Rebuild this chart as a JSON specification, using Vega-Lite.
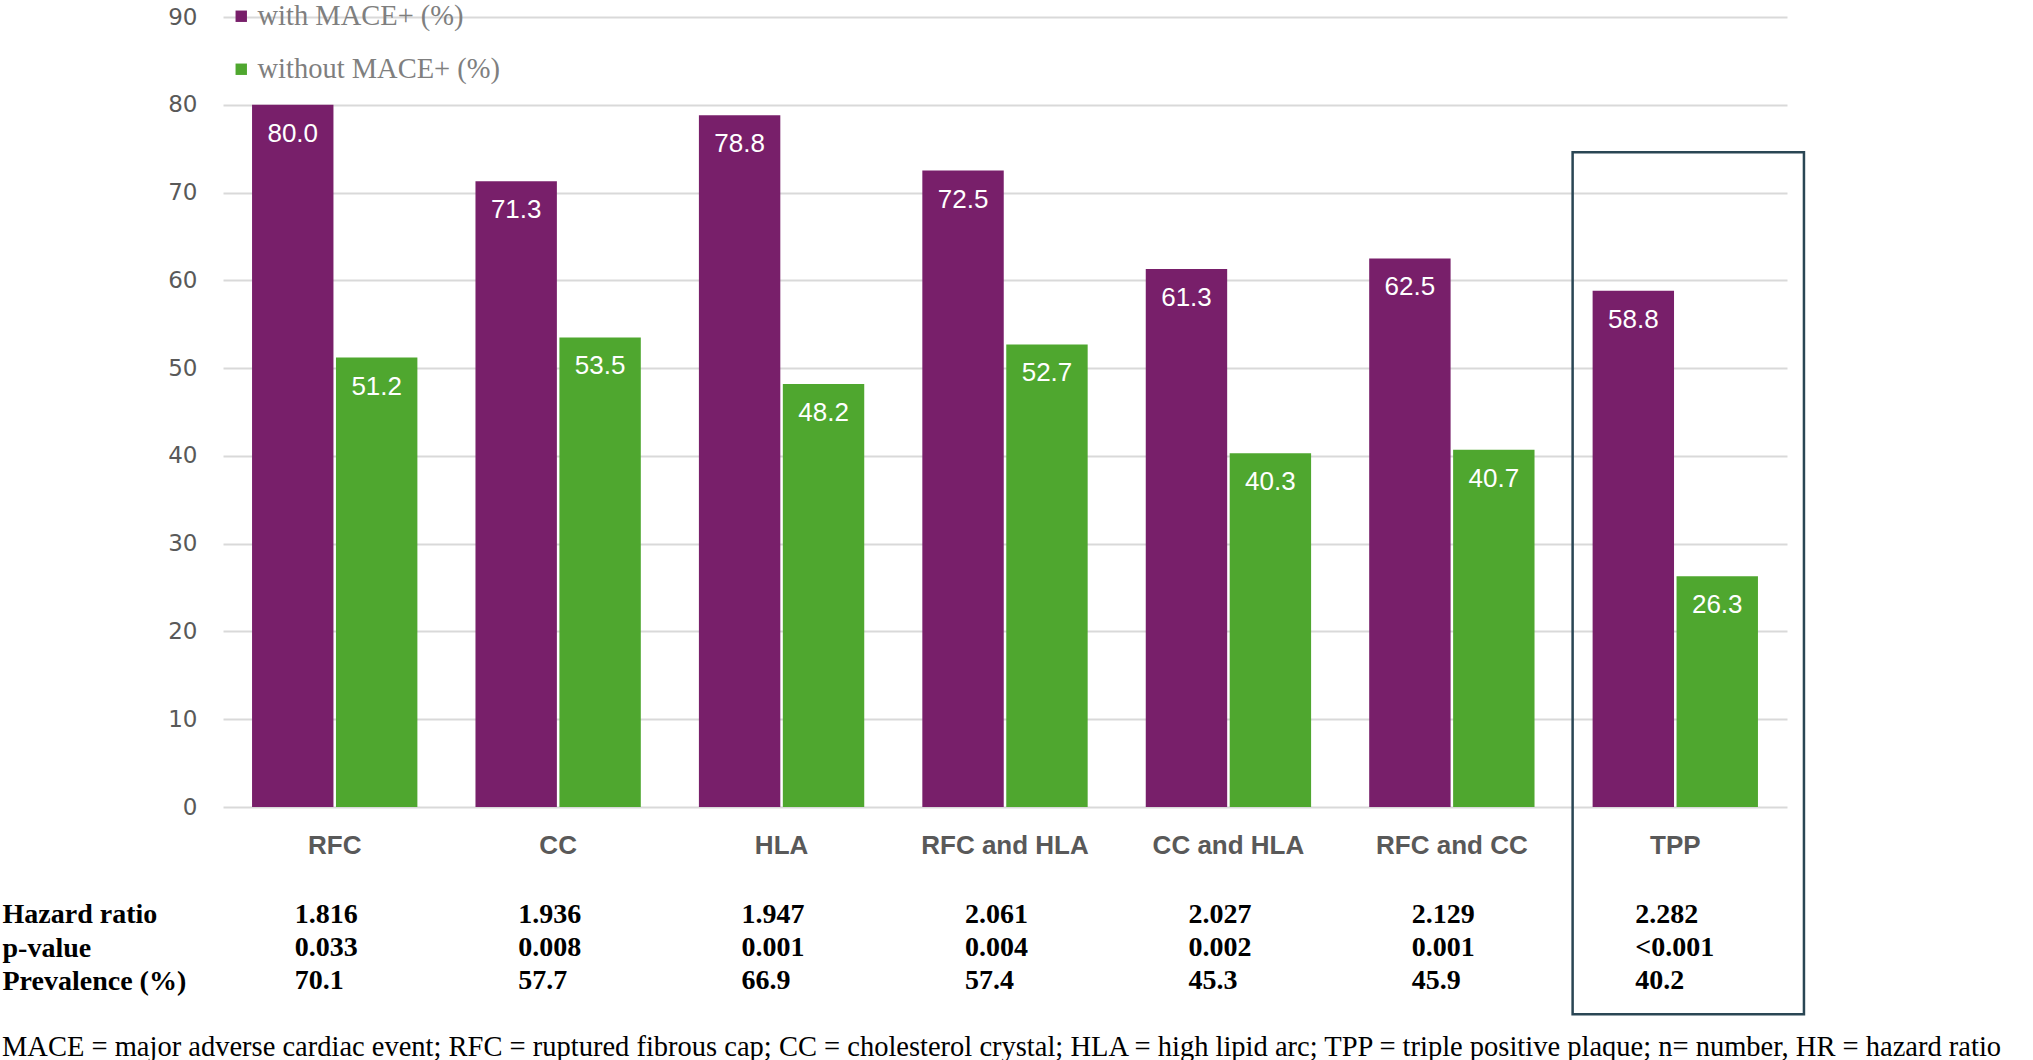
{
  "$schema": "https://vega.github.io/schema/vega-lite/v6.json",
  "padding": 2,
  "background": "white",
  "bounds": "flush",
  "spacing": 91,
  "config": {"view": {"stroke": null}},
  "datasets": {
    "bars": [
      {"cat": "RFC", "series": "with MACE+ (%)", "value": 80.0},
      {"cat": "RFC", "series": "without MACE+ (%)", "value": 51.2},
      {"cat": "CC", "series": "with MACE+ (%)", "value": 71.3},
      {"cat": "CC", "series": "without MACE+ (%)", "value": 53.5},
      {"cat": "HLA", "series": "with MACE+ (%)", "value": 78.8},
      {"cat": "HLA", "series": "without MACE+ (%)", "value": 48.2},
      {"cat": "RFC and HLA", "series": "with MACE+ (%)", "value": 72.5},
      {"cat": "RFC and HLA", "series": "without MACE+ (%)", "value": 52.7},
      {"cat": "CC  and HLA", "series": "with MACE+ (%)", "value": 61.3},
      {"cat": "CC  and HLA", "series": "without MACE+ (%)", "value": 40.3},
      {"cat": "RFC and CC", "series": "with MACE+ (%)", "value": 62.5},
      {"cat": "RFC and CC", "series": "without MACE+ (%)", "value": 40.7},
      {"cat": "TPP", "series": "with MACE+ (%)", "value": 58.8},
      {"cat": "TPP", "series": "without MACE+ (%)", "value": 26.3}
    ],
    "table": [
      {"cat": "RFC", "row": "Hazard ratio", "val": "1.816"},
      {"cat": "RFC", "row": "p-value", "val": "0.033"},
      {"cat": "RFC", "row": "Prevalence (%)", "val": "70.1"},
      {"cat": "CC", "row": "Hazard ratio", "val": "1.936"},
      {"cat": "CC", "row": "p-value", "val": "0.008"},
      {"cat": "CC", "row": "Prevalence (%)", "val": "57.7"},
      {"cat": "HLA", "row": "Hazard ratio", "val": "1.947"},
      {"cat": "HLA", "row": "p-value", "val": "0.001"},
      {"cat": "HLA", "row": "Prevalence (%)", "val": "66.9"},
      {"cat": "RFC and HLA", "row": "Hazard ratio", "val": "2.061"},
      {"cat": "RFC and HLA", "row": "p-value", "val": "0.004"},
      {"cat": "RFC and HLA", "row": "Prevalence (%)", "val": "57.4"},
      {"cat": "CC  and HLA", "row": "Hazard ratio", "val": "2.027"},
      {"cat": "CC  and HLA", "row": "p-value", "val": "0.002"},
      {"cat": "CC  and HLA", "row": "Prevalence (%)", "val": "45.3"},
      {"cat": "RFC and CC", "row": "Hazard ratio", "val": "2.129"},
      {"cat": "RFC and CC", "row": "p-value", "val": "0.001"},
      {"cat": "RFC and CC", "row": "Prevalence (%)", "val": "45.9"},
      {"cat": "TPP", "row": "Hazard ratio", "val": "2.282"},
      {"cat": "TPP", "row": "p-value", "val": "<0.001"},
      {"cat": "TPP", "row": "Prevalence (%)", "val": "40.2"}
    ],
    "box": [{"cat": "TPP", "top": 74.6, "bottom": -23.6}]
  },
  "title": {
    "text": "MACE = major adverse cardiac event; RFC = ruptured fibrous cap; CC = cholesterol crystal; HLA = high lipid arc; TPP = triple positive plaque; n= number, HR = hazard ratio",
    "orient": "bottom",
    "anchor": "start",
    "frame": "bounds",
    "offset": 18,
    "font": "Liberation Serif",
    "fontSize": 28.5,
    "fontWeight": "normal",
    "color": "black",
    "limit": 2100
  },
  "vconcat": [
    {
      "width": 1564,
      "height": 790,
      "layer": [
        {
          "data": {"name": "bars"},
          "mark": {"type": "bar"},
          "encoding": {
            "x": {
              "field": "cat",
              "type": "nominal",
              "sort": ["RFC", "CC", "HLA", "RFC and HLA", "CC  and HLA", "RFC and CC", "TPP"],
              "scale": {"paddingInner": 0.26, "paddingOuter": 0.13},
              "axis": {
                "title": null,
                "labelAngle": 0,
                "domain": false,
                "ticks": false,
                "labelPadding": 25,
                "labelFont": "Liberation Sans",
                "labelFontWeight": "bold",
                "labelFontSize": 26,
                "labelColor": "#595959"
              }
            },
            "xOffset": {
              "field": "series",
              "sort": ["with MACE+ (%)", "without MACE+ (%)"],
              "scale": {"paddingInner": 0.03}
            },
            "y": {
              "field": "value",
              "type": "quantitative",
              "scale": {"domain": [0, 90]},
              "axis": {
                "title": null,
                "values": [0, 10, 20, 30, 40, 50, 60, 70, 80, 90],
                "domain": false,
                "ticks": false,
                "labelPadding": 26,
                "labelFont": "DejaVu Sans",
                "labelFontSize": 23,
                "labelColor": "#595959",
                "gridColor": "#d9d9d9",
                "gridWidth": 2
              }
            },
            "color": {
              "field": "series",
              "type": "nominal",
              "scale": {"domain": ["with MACE+ (%)", "without MACE+ (%)"], "range": ["#781f6a", "#4fa72f"]},
              "legend": {
                "title": null,
                "orient": "none",
                "legendX": 4,
                "legendY": -15,
                "symbolType": "square",
                "symbolSize": 130,
                "symbolStrokeWidth": 0,
                "labelFont": "Liberation Serif",
                "labelFontSize": 28.5,
                "labelColor": "#7f7f7f",
                "labelOffset": 2,
                "rowPadding": 24,
                "labelLimit": 400
              }
            }
          }
        },
        {
          "data": {"name": "bars"},
          "mark": {"type": "text", "baseline": "middle", "dy": 29, "color": "white", "font": "Liberation Sans", "fontSize": 26},
          "encoding": {
            "x": {"field": "cat", "type": "nominal", "sort": ["RFC", "CC", "HLA", "RFC and HLA", "CC  and HLA", "RFC and CC", "TPP"]},
            "xOffset": {"field": "series", "sort": ["with MACE+ (%)", "without MACE+ (%)"]},
            "y": {"field": "value", "type": "quantitative", "scale": {"domain": [0, 90]}},
            "text": {"field": "value", "type": "quantitative", "format": ".1f"}
          }
        },
        {
          "data": {"name": "box"},
          "mark": {"type": "rect", "fill": "transparent", "stroke": "#2a4654", "strokeWidth": 2.5, "clip": false, "xOffset": -20, "x2Offset": 46},
          "encoding": {
            "x": {"field": "cat", "type": "nominal", "bandPosition": 0, "sort": ["RFC", "CC", "HLA", "RFC and HLA", "CC  and HLA", "RFC and CC", "TPP"]},
            "x2": {"field": "cat", "bandPosition": 1},
            "y": {"field": "top", "type": "quantitative", "scale": {"domain": [0, 90]}},
            "y2": {"field": "bottom"}
          }
        }
      ]
    },
    {
      "width": 1564,
      "height": 100,
      "data": {"name": "table"},
      "mark": {"type": "text", "align": "left", "baseline": "middle", "dx": -40, "font": "Liberation Serif", "fontWeight": "bold", "fontSize": 28, "color": "black"},
      "encoding": {
        "x": {
          "field": "cat",
          "type": "nominal",
          "sort": ["RFC", "CC", "HLA", "RFC and HLA", "CC  and HLA", "RFC and CC", "TPP"],
          "axis": null
        },
        "y": {
          "field": "row",
          "type": "nominal",
          "sort": ["Hazard ratio", "p-value", "Prevalence (%)"],
          "axis": {
            "title": null,
            "orient": "left",
            "labelAlign": "left",
            "labelPadding": 221,
            "ticks": false,
            "domain": false,
            "grid": false,
            "labelFont": "Liberation Serif",
            "labelFontWeight": "bold",
            "labelFontSize": 28,
            "labelColor": "black",
            "labelLimit": 300
          }
        },
        "text": {"field": "val"}
      }
    }
  ]
}
